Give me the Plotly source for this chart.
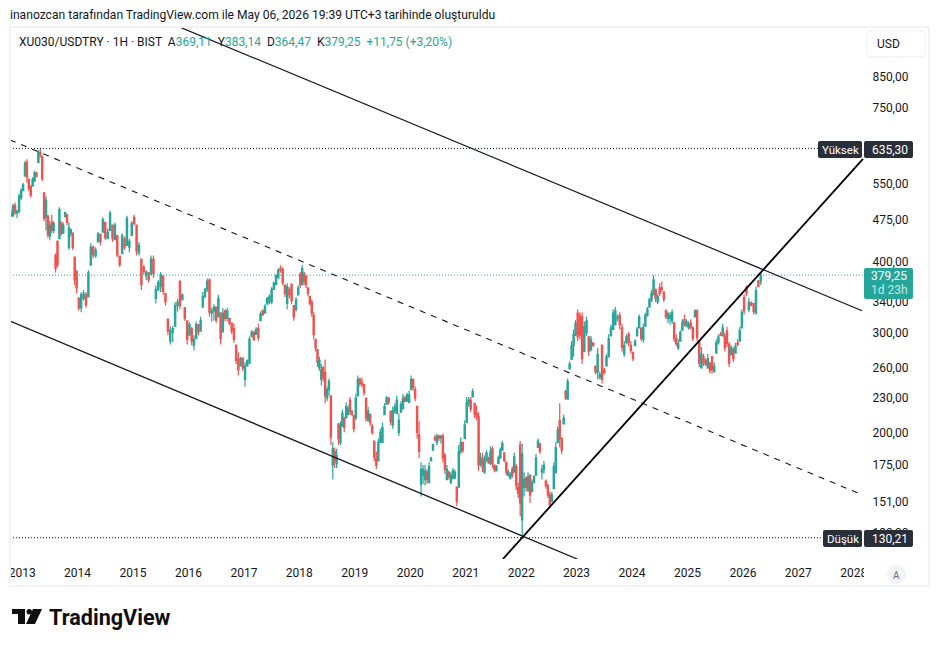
import plotly.graph_objects as go
import pandas as pd

# Bars as (open, high, low, close), grouped by calendar year
bars_2012 = [(487,495,480,483),(483,507,480,503),(503,510,485,490),(488,495,478,492),(492,528,488,523),(520,540,515,535)]
bars_2013 = [(535,552,534,548),(568,604,566,598),(600,608,553,565),(560,562,534,540),(545,545,520,525),(545,565,545,560),(556,580,556,575),(575,578,565,568),(600,632,598,625),(625,635.3,612,618),(615,617,556,562),(530,530,473,478),(480,523,455,515),(483,483,441,447),(445,473,437,465),(470,485,450,455),(455,473,450,468),(412,414,383,390),(435,437,392,396),(440,500,446,495),(470,470,446,450),(450,470,450,465),(481,491,481,489),(485,487,464,470),(425,470,420,460),(450,458,444,456),(450,450,420,424),(408,408,364,372),(385,387,352,360)]
bars_2014 = [(345,347,328,332),(332,354,326,350),(345,357,342,352),(350,354,332,336),(347,387,347,383),(395,432,395,425),(425,428,406,412),(410,425,407,420),(434,452,434,448),(448,448,428,434),(452,480,452,475),(470,470,437,442),(440,458,440,452),(455,493,462,488),(465,465,434,440),(438,470,443,465),(445,447,408,412),(410,410,392,396),(414,450,414,445),(440,444,420,425),(428,483,428,478),(425,440,416,435),(446,473,446,468)]
bars_2015 = [(480,485,464,468),(465,465,411,418),(415,434,411,428),(405,405,357,365),(392,395,380,385),(378,387,372,384),(383,384,368,372),(381,411,379,405),(405,411,375,382),(345,364,338,358),(358,372,355,368),(362,384,354,380),(378,379,350,355),(352,353,335,340),(317,317,297,302),(290,308,286,303),(300,308,289,305),(308,340,308,335),(335,344,327,340),(370,370,330,335),(343,352,343,350),(332,333,315,318),(315,315,286,292)]
bars_2016 = [(297,313,297,310),(305,307,285,290),(285,297,279,292),(293,314,292,310),(310,310,297,301),(302,320,302,315),(333,354,333,348),(347,360,347,358),(358,374,354,370),(372,374,320,326),(325,332,314,328),(328,337,315,333),(333,333,312,316),(320,350,320,345),(325,326,286,293),(301,332,301,325),(328,330,314,318),(318,332,314,328),(318,319,309,312),(312,313,298,302),(305,311,288,292),(285,286,264,268),(270,277,252,258),(262,272,262,270),(270,272,257,260)]
bars_2017 = [(248,266,241,262),(262,269,262,268),(265,295,264,292),(295,303,295,301),(301,301,290,292),(298,307,298,304),(305,311,290,294),(315,327,315,324),(328,330,321,323),(325,337,325,334),(337,347,337,345),(340,351,337,348),(340,361,337,358),(358,369,358,367),(365,381,365,378),(375,390,375,387),(390,395,383,387),(388,392,364,368),(364,364,347,352),(338,367,330,362),(358,361,345,350),(365,367,337,342),(335,335,315,320),(330,347,327,343),(350,364,350,360)]
bars_2018 = [(380,384,360,365),(365,395,364,390),(382,384,364,370),(378,379,360,365),(360,361,348,352),(348,348,335,338),(340,343,320,325),(322,326,292,298),(292,292,278,282),(280,280,261,266),(260,272,257,268),(248,264,242,258),(260,262,246,250),(255,269,225,232),(230,241,227,238),(238,249,232,246),(232,232,190,196),(175,192,165,187),(185,188,173,178),(176,187,173,182),(207,207,190,195),(192,209,190,205),(205,219,205,216),(212,213,200,204),(212,226,212,222),(215,223,215,220),(228,231,215,218),(218,219,214,215),(214,214,200,203)]
bars_2019 = [(212,234,210,230),(232,252,232,248),(248,250,241,244),(245,250,240,243),(243,243,232,235),(230,230,209,212),(210,222,209,218),(215,216,205,208),(205,207,198,200),(193,193,178,181),(180,185,172,175),(178,195,178,192),(192,203,192,200),(192,208,192,204),(215,225,215,222),(224,232,224,230),(230,231,224,226),(218,218,206,209),(206,222,203,218),(218,225,216,222),(216,232,216,228),(200,216,197,210),(217,227,217,224),(220,234,220,230),(230,232,226,227),(227,235,227,233),(226,237,226,233)]
bars_2020 = [(238,252,238,248),(248,249,237,240),(238,241,227,230),(222,223,195,200),(198,209,180,185),(162,177,154,172),(168,175,162,172),(165,175,161,171),(170,172,162,165),(163,177,163,174),(178,181,178,180),(186,191,186,190),(196,198,193,194),(192,199,190,197),(197,198,193,195),(195,198,191,197),(197,199,177,180),(182,184,169,172),(165,175,165,172),(170,171,165,167),(163,170,162,168),(166,173,165,171),(166,172,166,170),(160,160,148,151),(160,190,160,185),(185,196,183,192),(192,192,184,186),(195,210,195,206)]
bars_2021 = [(208,231,208,226),(225,231,222,228),(228,231,217,220),(231,239,231,236),(225,225,212,215),(216,223,210,213),(213,217,171,175),(176,184,174,180),(180,184,170,173),(170,182,169,178),(178,186,178,184),(180,181,176,177),(176,189,175,185),(187,189,173,176),(175,175,170,172),(171,175,171,174),(176,182,176,180),(180,188,180,186),(186,193,186,191),(184,184,177,178),(177,177,168,170),(168,172,167,170),(166,170,165,168),(172,174,166,168),(170,184,170,181),(174,176,158,161),(160,163,153,156),(190,193,142,150)]
bars_2022 = [(140,191,130.21,183),(160,170,154,165),(166,167,157,160),(158,170,157,167),(168,168,150,155),(157,165,157,163),(163,168,163,167),(168,183,168,180),(188,195,188,193),(191,191,183,185),(170,175,165,172),(172,178,169,175),(164,165,159,161),(161,162,153,155),(155,157,147,149),(151,157,151,155),(159,177,159,174),(170,192,169,188),(192,205,192,202),(210,225,188,195),(195,196,183,186),(207,215,207,212),(236,238,228,230),(229,249,229,246),(259,267,259,264),(269,290,269,285),(285,304,272,298),(298,316,296,312)]
bars_2023 = [(325,330,290,295),(322,326,292,297),(320,326,264,270),(278,314,278,308),(300,320,296,315),(295,295,273,278),(280,296,278,292),(288,288,283,285),(262,262,253,256),(255,282,248,275),(250,256,248,253),(285,286,244,248),(258,260,253,255),(262,275,262,272),(272,298,272,293),(296,310,296,306),(304,330,304,325),(310,333,309,328),(318,323,314,320),(322,326,304,310),(306,311,278,283),(275,290,272,285),(288,298,286,295),(298,301,284,288),(285,290,276,279)]
bars_2024 = [(277,277,267,270),(285,292,284,290),(296,307,296,304),(306,323,306,320),(305,307,290,293),(292,311,288,306),(308,325,308,322),(322,333,320,330),(333,346,333,343),(343,357,340,352),(350,379,350,372),(358,359,340,345),(340,352,337,348),(360,367,348,352),(360,370,354,358),(354,355,340,344),(328,330,317,320),(318,327,312,324),(318,326,310,322),(315,330,311,326),(312,314,289,293),(293,298,284,287),(282,292,280,287),(290,303,290,300),(303,317,303,313),(316,323,308,310),(308,317,307,314)]
bars_2025 = [(306,314,304,311),(312,317,304,307),(306,308,290,293),(320,330,320,328),(328,330,290,294),(290,290,261,265),(260,283,259,275),(272,275,262,265),(268,270,262,264),(260,275,259,270),(265,266,254,257),(272,273,254,258),(256,266,255,262),(276,292,276,288),(288,298,286,295),(298,301,296,297),(296,311,296,306),(296,300,278,282),(302,307,283,287),(286,289,261,265),(274,285,274,282),(280,283,266,270),(276,288,276,284),(288,292,284,286),(290,307,290,303),(306,330,306,326)]
bars_2026 = [(346,351,323,328),(360,364,348,352),(330,346,326,340),(338,341,334,336),(338,339,323,327),(325,362,323,356),(370,372,361,362),(369.11,383.14,364.47,379.25)]

price_ticks = [850, 750, 550, 475, 400, 340, 300, 260, 230, 200, 175, 151, 133]
price_tick_labels = ["850,00", "750,00", "550,00", "475,00", "400,00", "340,00", "300,00", "260,00", "230,00", "200,00", "175,00", "151,00", "130,00"]
year_labels = ["2013", "2014", "2015", "2016", "2017", "2018", "2019", "2020", "2021", "2022", "2023", "2024", "2025", "2026", "2027", "2028"]

yearly_bars = [
    ("2012-10-13", "2013-01-01", bars_2012), ("2013-01-01", "2014-01-01", bars_2013),
    ("2014-01-01", "2015-01-01", bars_2014), ("2015-01-01", "2016-01-01", bars_2015),
    ("2016-01-01", "2017-01-01", bars_2016), ("2017-01-01", "2018-01-01", bars_2017),
    ("2018-01-01", "2019-01-01", bars_2018), ("2019-01-01", "2020-01-01", bars_2019),
    ("2020-01-01", "2021-01-01", bars_2020), ("2021-01-01", "2022-01-01", bars_2021),
    ("2022-01-01", "2023-01-01", bars_2022), ("2023-01-01", "2024-01-01", bars_2023),
    ("2024-01-01", "2025-01-01", bars_2024), ("2025-01-01", "2026-01-01", bars_2025),
    ("2026-01-01", "2026-05-06", bars_2026),
]

TEAL, RED, INK, DARK = "#26a69a", "#ef5350", "#131722", "#2a2e39"
FONT = "Roboto, 'Open Sans', sans-serif"
W, H = 939, 647
L, R, T, B = 10, 865, 27, 559

dates, opens, highs, lows, closes = [], [], [], [], []
for start, end, rows in yearly_bars:
    start, end = pd.Timestamp(start), pd.Timestamp(end)
    step = (end - start) / len(rows)
    for i, (o, h, l, c) in enumerate(rows):
        dates.append(start + step * (i + 0.5))
        opens.append(o); highs.append(h); lows.append(l); closes.append(c)

fig = go.Figure()
fig.add_trace(go.Candlestick(
    x=dates, open=opens, high=highs, low=lows, close=closes,
    increasing=dict(line=dict(color=TEAL, width=1.2), fillcolor=TEAL),
    decreasing=dict(line=dict(color=RED, width=1.2), fillcolor=RED),
    whiskerwidth=0, hoverinfo="skip", showlegend=False,
))

def add_line(x, y, color="#131722", width=1.2, dash="solid"):
    fig.add_trace(go.Scatter(x=x, y=y, mode="lines", showlegend=False, hoverinfo="skip",
                             line=dict(color=color, width=width, dash=dash)))

# Horizontal levels: session high, session low, last price
add_line(["2012-10-13", "2027-05-10"], [635.3, 635.3], width=1, dash="1px,2px")
add_line(["2012-10-13", "2027-06-07"], [130.21, 130.21], width=1, dash="1px,2px")
add_line(["2012-10-13", "2028-03-15"], [379.25, 379.25], color=TEAL, width=1, dash="1px,2px")
# Falling channel with its dashed midline, and the rising trend line
add_line(["2012-10-13", "2023-01-05"], [314.5, 119.4], width=1.3)
add_line(["2015-11-06", "2028-02-25"], [1041, 328], width=1.2)
add_line(["2012-10-13", "2028-02-25"], [657.7, 155.1], width=1.1, dash="6px,6px")
add_line(["2021-09-03", "2028-03-02"], [119.4, 608.8], color="#000000", width=1.8)

def px(x):
    return (x - L) / (R - L)

def py(y):
    return (B - y) / (B - T)

def rounded(x0, y0, x1, y1, r=2):
    xs = lambda v: f"{px(v):.5f}"
    ys = lambda v: f"{py(v):.5f}"
    return (f"M{xs(x0 + r)},{ys(y0)} L{xs(x1 - r)},{ys(y0)} Q{xs(x1)},{ys(y0)} {xs(x1)},{ys(y0 + r)} "
            f"L{xs(x1)},{ys(y1 - r)} Q{xs(x1)},{ys(y1)} {xs(x1 - r)},{ys(y1)} "
            f"L{xs(x0 + r)},{ys(y1)} Q{xs(x0)},{ys(y1)} {xs(x0)},{ys(y1 - r)} "
            f"L{xs(x0)},{ys(y0 + r)} Q{xs(x0)},{ys(y0)} {xs(x0 + r)},{ys(y0)} Z")

def box(x0, y0, x1, y1, fill, r=2, line="rgba(0,0,0,0)", lw=0):
    return dict(type="path", xref="paper", yref="paper", layer="above", path=rounded(x0, y0, x1, y1, r),
                fillcolor=fill, line=dict(color=line, width=lw))

def polygon(points, fill):
    p = "M" + " L".join(f"{px(a):.5f},{py(b):.5f}" for a, b in points) + " Z"
    return dict(type="path", xref="paper", yref="paper", layer="above", path=p, fillcolor=fill, line=dict(width=0))

shapes = [
    # Cuts the last year label where the price scale begins
    dict(type="rect", xref="paper", yref="paper", layer="above", x0=px(864), x1=px(927), y0=py(585), y1=py(561),
         fillcolor="white", line=dict(width=0)),
    # Outer frame
    dict(type="rect", xref="paper", yref="paper", layer="above", x0=px(10), x1=px(929), y0=py(586), y1=py(27),
         fillcolor="rgba(0,0,0,0)", line=dict(color="#f2f3f4", width=2)),
    box(867, 31, 925, 57, "white", r=5, line="#f0f1f3", lw=1),
    box(818, 141, 862, 158, DARK), box(864, 141, 913, 158, DARK),
    box(823, 530, 862, 547, DARK), box(864, 530, 913, 547, DARK),
    box(864, 268, 913, 299, TEAL),
    dict(type="circle", xref="paper", yref="paper", layer="above", x0=px(887), x1=px(906), y0=py(584), y1=py(565),
         fillcolor="#f2f3f5", line=dict(width=0)),
    # Brand mark
    polygon([(12, 609), (25, 609), (25, 624), (18, 624), (18, 614), (12, 614)], "#0f0f0f"),
    polygon([(33, 609), (42, 609), (35, 624), (26, 624)], "#0f0f0f"),
    dict(type="circle", xref="paper", yref="paper", layer="above", x0=px(26.5), x1=px(32), y0=py(614.5), y1=py(609),
         fillcolor="#0f0f0f", line=dict(width=0)),
]

def text(x, y, s, size=12, color=INK, anchor="left", family=FONT):
    return dict(xref="paper", yref="paper", x=px(x), y=py(y), text=s, showarrow=False, xanchor=anchor, yanchor="middle",
                font=dict(family=family, size=size, color=color), align=anchor)

def tv(s):
    return f"<span style='color:{TEAL}'>{s}</span>"

legend = f"XU030/USDTRY · 1H · BIST  A{tv('369,11')}  Y{tv('383,14')}  D{tv('364,47')}  K{tv('379,25')}  {tv('+11,75 (+3,20%)')}"
annotations = [
    text(8, 15, "inanozcan tarafından TradingView.com ile May 06, 2026 19:39 UTC+3 tarihinde oluşturuldu", size=12.1),
    text(17, 42, legend, size=12),
    text(875, 44, "USD", size=12),
    text(840, 149.5, "Yüksek", size=11.5, color="white", anchor="center"),
    text(890, 149.5, "635,30", size=12, color="white", anchor="center"),
    text(842.5, 538.5, "Düşük", size=11.5, color="white", anchor="center"),
    text(890, 538.5, "130,21", size=12, color="white", anchor="center"),
    text(889, 276, "379,25", size=12, color="white", anchor="center"),
    text(889, 290, "1d 23h", size=12, color="#c5e8e4", anchor="center"),
    text(896.5, 575, "A", size=10, color="#6a6d78", anchor="center"),
    text(47, 617, "<b>TradingView</b>", size=21.6, color="#0f0f0f"),
]

fig.update_layout(
    width=W, height=H, autosize=False,
    margin=dict(l=L, r=W - R, t=T, b=H - B, pad=0),
    paper_bgcolor="white", plot_bgcolor="white", showlegend=False, dragmode=False,
    boxgap=0.05, shapes=shapes, annotations=annotations,
    font=dict(family=FONT, color=INK),
)
fig.update_xaxes(
    type="date", range=["2012-10-13", "2028-03-15"], rangeslider_visible=False, showgrid=False, zeroline=False,
    tickmode="array", tickvals=[f"{y}-01-01" for y in year_labels], ticktext=year_labels,
    ticks="outside", ticklen=3, tickcolor="rgba(0,0,0,0)", tickfont=dict(size=12, color=INK), showline=False,
)
fig.update_yaxes(
    type="log", range=[2.0770, 3.0177], side="right", showgrid=False, zeroline=False, showline=False,
    tickmode="array", tickvals=price_ticks, ticktext=price_tick_labels,
    ticks="outside", ticklen=4, tickcolor="rgba(0,0,0,0)", tickfont=dict(size=12, color=INK),
)

fig.write_html("out.html", config={"displayModeBar": False})
